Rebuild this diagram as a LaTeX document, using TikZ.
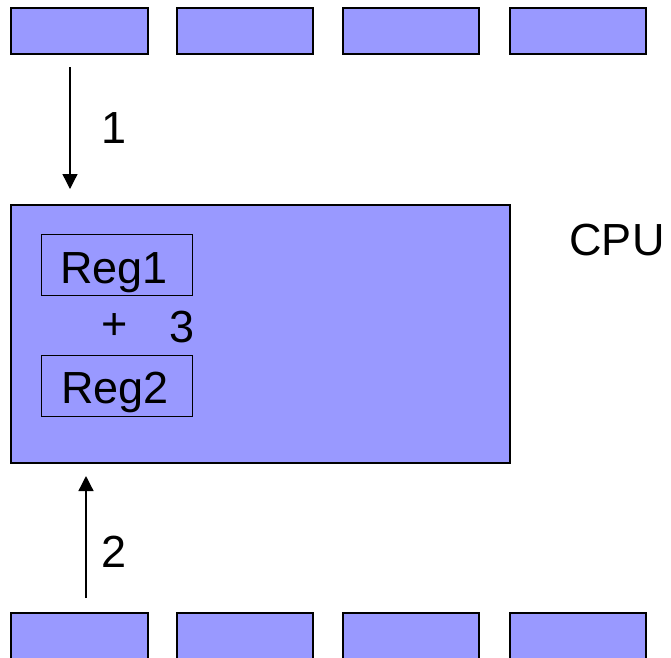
\documentclass[tikz,border=0pt]{standalone}
\usepackage{fontspec}
\setmainfont{Liberation Sans}
\usetikzlibrary{arrows.meta}
\definecolor{cellblue}{HTML}{9999FF}
\begin{document}
\begin{tikzpicture}[x=1pt,y=-1pt,
  cell/.style={draw=black,line width=1.6pt,fill=cellblue,inner sep=0pt,anchor=north west},
  reg/.style={draw=black,line width=1pt,fill=cellblue,inner sep=0pt,anchor=north west,
              minimum width=151pt,minimum height=61pt},
  lbl/.style={inner sep=0pt,font=\fontsize{45}{48}\selectfont},
  flow/.style={line width=1.3pt,-{Triangle[length=15pt,width=15pt]}}]
\useasboundingbox (0,0) rectangle (671,657);
% memory cells, top row
\node[cell,minimum width=137pt,minimum height=46pt] (t1) at (10,7) {};
\node[cell,minimum width=136pt,minimum height=46pt] (t2) at (176,7) {};
\node[cell,minimum width=136pt,minimum height=46pt] (t3) at (342,7) {};
\node[cell,minimum width=136pt,minimum height=46pt] (t4) at (509,7) {};
% memory cells, bottom row
\node[cell,minimum width=137pt,minimum height=50pt] (b1) at (10,612) {};
\node[cell,minimum width=136pt,minimum height=50pt] (b2) at (176,612) {};
\node[cell,minimum width=136pt,minimum height=50pt] (b3) at (342,612) {};
\node[cell,minimum width=136pt,minimum height=50pt] (b4) at (509,612) {};
% processor with its two registers
\node[cell,minimum width=499pt,minimum height=258pt] (cpu) at (10,204) {};
\node[lbl] (cpulabel) at (617,240) {CPU};
\node[reg] (reg1) at (41,234) {};
\node[lbl,anchor=base] (reg1text) at (114,283) {Reg1};
\node[reg] (reg2) at (41,355) {};
\node[lbl,anchor=base] (reg2text) at (115,403) {Reg2};
\node[lbl] (plus) at (115,327) {+};
\node[lbl] (three) at (182,327) {3};
% transfers
\coordinate (a1s) at (70,67);
\coordinate (a1e) at (70,189);
\draw[flow] (a1s) -- (a1e);
\node[lbl] (n1) at (114,128) {1};
\coordinate (a2s) at (86,598);
\coordinate (a2e) at (86,476);
\draw[flow] (a2s) -- (a2e);
\node[lbl] (n2) at (114,552) {2};
\end{tikzpicture}
\end{document}
